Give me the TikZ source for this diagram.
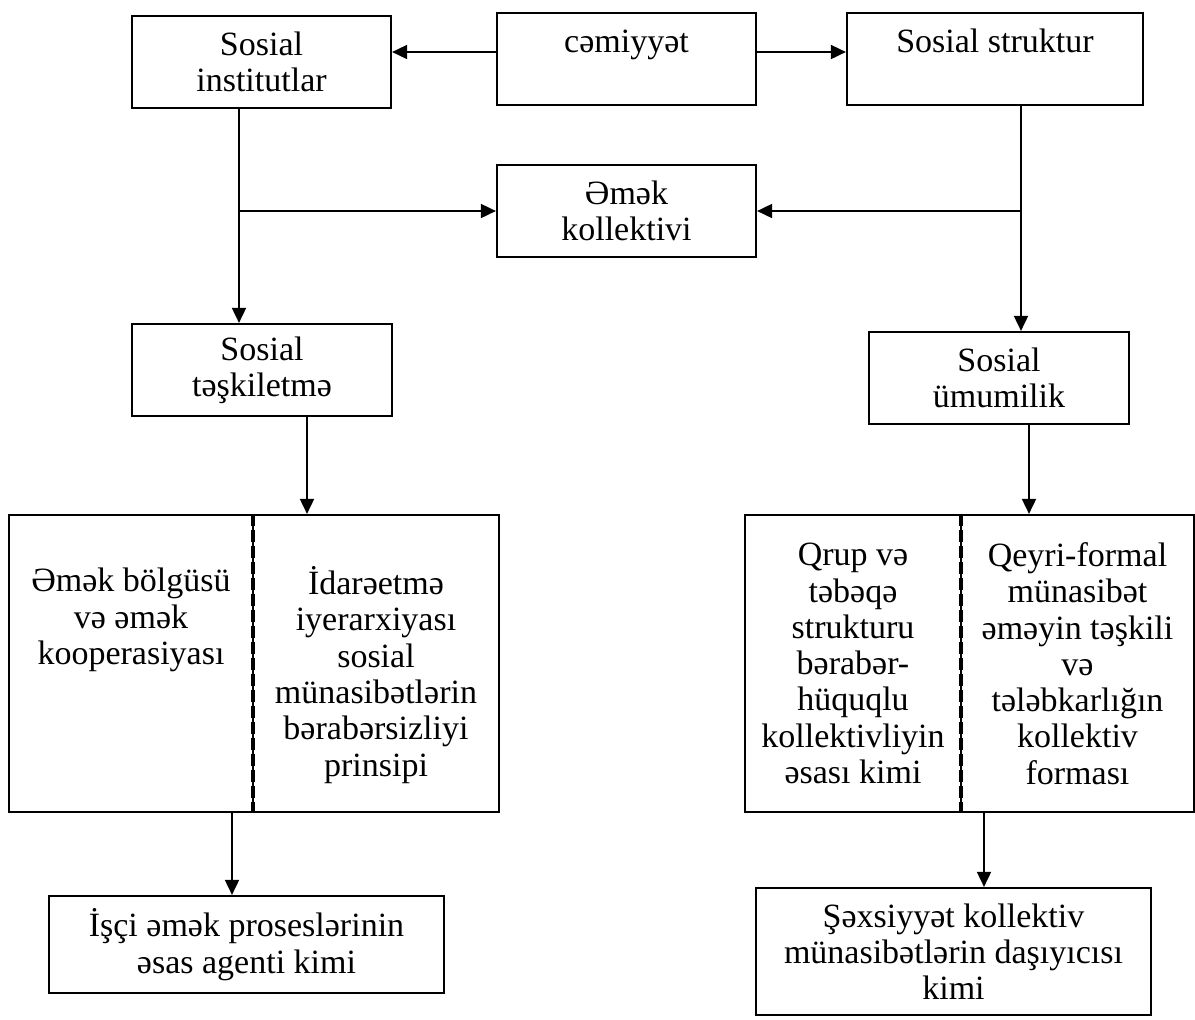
\documentclass[tikz,border=0pt]{standalone}
\usepackage{fontspec}
\setmainfont{Liberation Serif}
\usetikzlibrary{arrows.meta,positioning,calc}

\begin{document}
\begin{tikzpicture}[
  x=0.5pt, y=-0.5pt,
  >={Triangle[length=7.5pt,width=7pt]},
  box/.style 2 args={draw, line width=1.1pt, inner sep=0pt, align=center,
    minimum width=#1*0.5pt, minimum height=#2*0.5pt,
    font=\fontsize{17pt}{18.15pt}\selectfont},
  txt/.style={align=center, inner sep=0pt, font=\fontsize{17pt}{18.15pt}\selectfont},
  conn/.style={line width=0.9pt},
  arr/.style={line width=0.9pt, ->},
  divider/.style={line width=0.8pt},
  divdash/.style={line width=1.8pt, dash pattern=on 6pt off 2pt}
]
\useasboundingbox (0,0) rectangle (1195,1019);

% top row
\node[box={259}{92}] (inst) at (261.5,62) {Sosial\\institutlar};
\node[box={259}{92}] (cem) at (626.5,59) {cəmiyyət\\~};
\node[box={296}{92}] (strukt) at (995,59) {Sosial struktur\\~};

% middle
\node[box={259}{92}] (emek) at (626.5,211) {Əmək\\kollektivi};
\node[box={260}{92}] (teskil) at (262,370) {Sosial\\təşkiletmə};
\node[box={260}{92}] (umum) at (999,378) {Sosial\\ümumilik};

% big split boxes
\node[box={490}{297}] (bigL) at (254,663.5) {};
\node[box={449}{297}] (bigR) at (969.5,663.5) {};
\coordinate (dL) at (253,0);
\coordinate (dR) at (961,0);
\draw[divider] (bigL.north -| dL) -- (bigL.south -| dL);
\draw[divdash] (bigL.north -| dL) -- (bigL.south -| dL);
\draw[divider] (bigR.north -| dR) -- (bigR.south -| dR);
\draw[divdash] (bigR.north -| dR) -- (bigR.south -| dR);

\node[txt] (bolgu) at (131,620) {Əmək bölgüsü\\və əmək\\kooperasiyası};
\node[txt] (idare) at (376,675) {İdarəetmə\\iyerarxiyası\\sosial\\münasibətlərin\\bərabərsizliyi\\prinsipi};
\node[txt] (qrup) at (853,663.5) {Qrup və\\təbəqə\\strukturu\\bərabər-\\hüquqlu\\kollektivliyin\\əsası kimi};
\node[txt] (qeyri) at (1077.5,663.5) {Qeyri-formal\\münasibət\\əməyin təşkili\\və\\tələbkarlığın\\kollektiv\\forması};

% bottom
\node[box={395}{97}] (isci) at (246.5,944.5) {İşçi əmək proseslərinin\\əsas agenti kimi};
\node[box={395}{127}] (sexs) at (953.5,951.5) {Şəxsiyyət kollektiv\\münasibətlərin daşıyıcısı\\kimi};

% connectors
\draw[arr] ([yshift=3.5pt]cem.west) -- ([yshift=3.5pt]cem.west -| inst.east);
\draw[arr] ([yshift=3.5pt]cem.east) -- ([yshift=3.5pt]cem.east -| strukt.west);

\coordinate (jL) at (239,211);
\coordinate (jR) at (1021,211);
\draw[conn] (inst.south -| jL) -- (jL);
\draw[arr] (jL) -- (teskil.north -| jL);
\draw[arr] (jL) -- (emek.west);
\draw[conn] (strukt.south -| jR) -- (jR);
\draw[arr] (jR) -- (umum.north -| jR);
\draw[arr] (jR) -- (emek.east);

\coordinate (xTs) at (307,0);
\coordinate (xUm) at (1029,0);
\coordinate (xIs) at (232,0);
\coordinate (xSx) at (984,0);
\draw[arr] (teskil.south -| xTs) -- (bigL.north -| xTs);
\draw[arr] (umum.south -| xUm) -- (bigR.north -| xUm);
\draw[arr] (bigL.south -| xIs) -- (isci.north -| xIs);
\draw[arr] (bigR.south -| xSx) -- (sexs.north -| xSx);

\end{tikzpicture}
\end{document}
